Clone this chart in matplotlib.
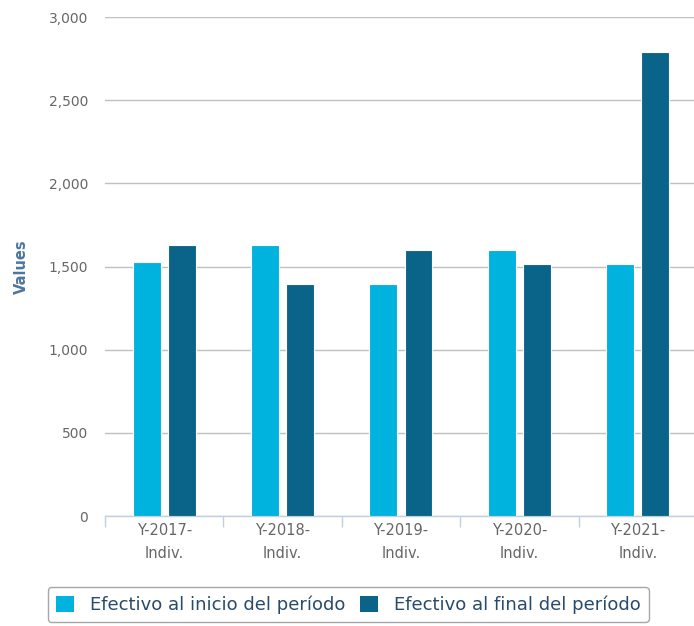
import matplotlib.pyplot as plt
import numpy as np
from matplotlib.patches import Patch

plt.rcParams["font.family"] = ["DejaVu Sans"]

categories = ["Y-2017-\nIndiv.", "Y-2018-\nIndiv.", "Y-2019-\nIndiv.", "Y-2020-\nIndiv.", "Y-2021-\nIndiv."]
inicio = [1525, 1632, 1397, 1602, 1517]
final = [1632, 1397, 1602, 1517, 2792]
series_names = ["Efectivo al inicio del período", "Efectivo al final del período"]
yticks = [0, 500, 1000, 1500, 2000, 2500, 3000]

c_light = "#00B3DF"
c_dark = "#0A6489"

fig = plt.figure(figsize=(6.94, 6.26), dpi=100)
ax = fig.add_axes([0.1513, 0.1757, 0.853, 0.797])

x = np.arange(len(categories))
w = 0.236
off = 0.148
ax.bar(x - off, inicio, w, color=c_light, edgecolor="white", linewidth=0.8, zorder=3)
ax.bar(x + off, final, w, color=c_dark, edgecolor="white", linewidth=0.8, zorder=3)

ax.set_xlim(-0.5, len(categories) - 0.5)
ax.set_ylim(0, 3000)
ax.set_yticks(yticks)
ax.set_yticklabels([f"{v:,}" for v in yticks], color="#666666", fontsize=10)
ax.yaxis.grid(True, color="#C0C0C0", linewidth=1, zorder=0)
ax.tick_params(axis="y", length=0, pad=12)

ax.set_xticks(x)
ax.set_xticklabels(categories, color="#666666", fontsize=10.5, linespacing=1.65)
ax.set_xticks(np.arange(-0.5, len(categories)), minor=True)
ax.tick_params(axis="x", which="major", length=0, pad=5)
ax.tick_params(axis="x", which="minor", length=8, color="#C0D0E0", width=1)

for s in ["left", "right", "top"]:
    ax.spines[s].set_visible(False)
ax.spines["bottom"].set_color("#C0D0E0")
ax.spines["bottom"].set_linewidth(1)

ax.set_ylabel("Values", color="#4D759E", fontsize=10.5, fontweight="bold", labelpad=14)

handles = [Patch(facecolor=c_light, edgecolor="none"), Patch(facecolor=c_dark, edgecolor="none")]
leg = fig.legend(handles, series_names, loc="center", bbox_to_anchor=(0.502, 0.0343),
                 ncol=2, fontsize=13, frameon=True, fancybox=True, edgecolor="#909090",
                 handlelength=1.0, handleheight=1.0, handletextpad=0.9, columnspacing=0.8,
                 borderpad=0.45, borderaxespad=0)
for t in leg.get_texts():
    t.set_color("#274B6D")
leg.get_frame().set_linewidth(1)

fig.savefig("out.png", dpi=100)
